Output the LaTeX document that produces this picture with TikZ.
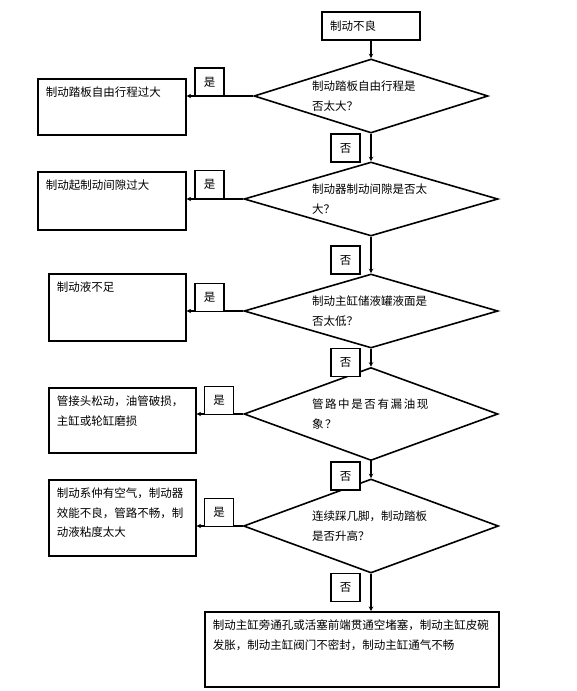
\documentclass[tikz,border=0pt]{standalone}
\usepackage{fontspec}
\setmainfont{Noto Sans CJK SC}
\usepackage{tikz}
\usetikzlibrary{arrows.meta, shapes.geometric}
\tikzset{
  %% ── Boxes ────────────────────────────────────────────────────────────
  %% A cause box keeps its text at the top, whatever its height; the
  %% questions are wide, flat diamonds.
  bloc/.style       = {draw=black, line width=1.6pt, align=left,
                       inner xsep=8pt, inner ysep=5pt},
  blocCause/.style  = {bloc, anchor=north west, text height=13pt},
  losange/.style    = {diamond, draw=black, line width=1.6pt, aspect=3,
                       inner sep=0pt, text width=118pt, align=left},
  reponse/.style    = {draw=black, line width=1.6pt, minimum width=29pt,
                       minimum height=28pt, inner sep=0pt},
  %%
  %% ── Arrows ───────────────────────────────────────────────────────────
  fleche/.style     = {-{Stealth[length=4.5pt, width=4.5pt]}, draw=black,
                       line width=1.3pt},
}

\begin{document}
\begin{tikzpicture}[x=1pt, y=-1pt, font=\fontsize{11.5}{19.5}\selectfont]

\useasboundingbox (0,0) rectangle (577,691);

\node[bloc, text width=82pt, minimum height=28pt] (debut) at (371,26) {制动不良};

\node[losange, minimum width=234pt, minimum height=74pt] (q1) at (371,96)
     {制动踏板自由行程是\\否太大？};
\node[losange, minimum width=254pt, minimum height=74pt] (q2) at (371,199)
     {制动器制动间隙是否太\\大？};
\node[losange, minimum width=254pt, minimum height=74pt] (q3) at (371,311)
     {制动主缸储液罐液面是\\否太低？};
\node[losange, minimum width=254pt, minimum height=93pt] (q4) at (371,414)
     {\addfontfeatures{LetterSpace=14}管路中是否有漏油现\\象？};
\node[losange, minimum width=255pt, minimum height=94pt] (q5) at (371,526)
     {连续踩几脚，制动踏板\\是否升高？};

\node[blocCause, text width=132pt, text depth=33pt] (c1) at (37,78)
     {制动踏板自由行程过大};
\node[blocCause, text width=132pt, text depth=35pt] (c2) at (37,171)
     {制动起制动间隙过大};
\node[blocCause, text width=121pt, text depth=44pt] (c3) at (48,273)
     {制动液不足};
\node[blocCause, text width=131pt, text depth=42pt] (c4) at (48,387)
     {管接头松动，油管破损，\\主缸或轮缸磨损};
\node[blocCause, text width=131pt, text depth=53pt] (c5) at (48,479)
     {制动系仲有空气，制动器\\效能不良，管路不畅，制\\动液粘度太大};
\node[blocCause, text width=278pt, text depth=52pt] (fin) at (204,611)
     {制动主缸旁通孔或活塞前端贯通空堵塞，制动主缸皮碗\\发胀，制动主缸阀门不密封，制动主缸通气不畅};

\draw[fleche] (debut) -- (q1);
\draw[fleche] (q1) -- (q2);
\draw[fleche] (q2) -- (q3);
\draw[fleche] (q3) -- (q4);
\draw[fleche] (q4) -- (q5);
\draw[fleche] (q5.south) -- (q5.south |- fin.north);

\draw[fleche] (q1.west) -- (q1.west -| c1.east);
\draw[fleche] (q2.west) -- (q2.west -| c2.east);
\draw[fleche] (q3.west) -- (q3.west -| c3.east);
\draw[fleche] (q4.west) -- (q4.west -| c4.east);
\draw[fleche] (q5.west) -- (q5.west -| c5.east);

\node[reponse, fill=white] (oui1) at (209.5,82) {是};
\node[reponse, fill=white] (oui2) at (209.5,184.5) {是};
\node[reponse, fill=white] (oui3) at (209.5,297.5) {是};
\node[reponse, fill=white] (oui4) at (219,400.5) {是};
\node[reponse, fill=white] (oui5) at (219,512.5) {是};

\node[reponse, fill=white] (non1) at (345.5,148) {否};
\node[reponse, fill=white] (non2) at (345.5,260) {否};
\node[reponse, fill=white] (non3) at (345.5,362.5) {否};
\node[reponse, fill=white] (non4) at (345.5,476) {否};
\node[reponse, fill=white] (non5) at (345.5,587.5) {否};

\end{tikzpicture}
\end{document}
